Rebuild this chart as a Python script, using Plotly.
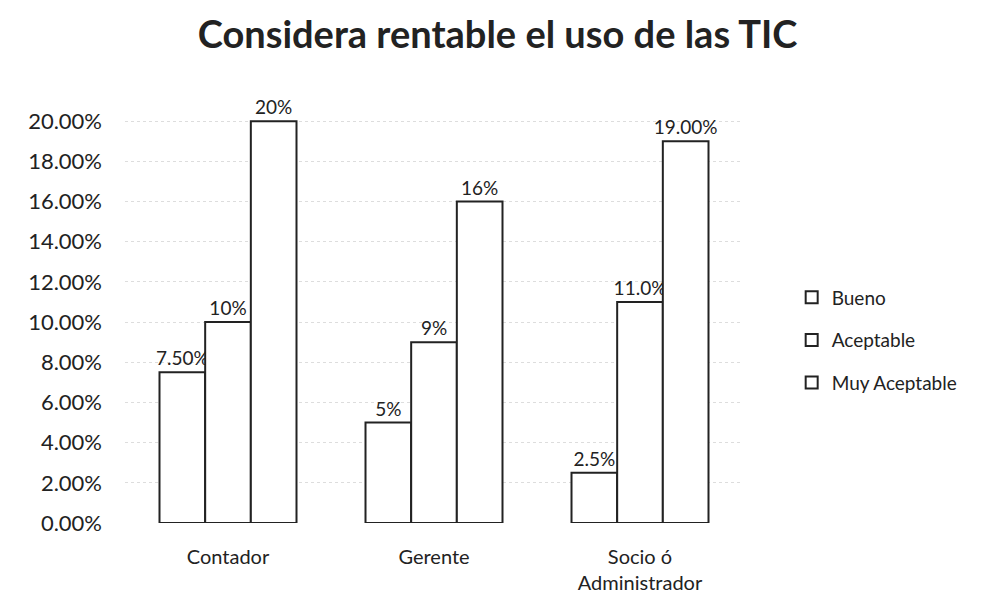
import plotly.graph_objects as go

categories = ["Contador", "Gerente", "Socio ó<br>Administrador"]
series_names = ["Bueno", "Aceptable", "Muy Aceptable"]
bueno = [7.5, 5.0, 2.5]
aceptable = [10.0, 9.0, 11.0]
muy_aceptable = [20.0, 16.0, 19.0]
bueno_labels = ["7.50%", "5%", "2.5%"]
aceptable_labels = ["10%", "9%", "11.0%"]
muy_aceptable_labels = ["20%", "16%", "19.00%"]
y_ticks = [0, 2, 4, 6, 8, 10, 12, 14, 16, 18, 20]
y_tick_labels = ["0.00%", "2.00%", "4.00%", "6.00%", "8.00%", "10.00%",
                 "12.00%", "14.00%", "16.00%", "18.00%", "20.00%"]

FONT = "Lato, 'Open Sans', sans-serif"
INK = "#222222"

fig = go.Figure()
for i, (name, vals, labs) in enumerate(zip(series_names,
                                            [bueno, aceptable, muy_aceptable],
                                            [bueno_labels, aceptable_labels, muy_aceptable_labels])):
    fig.add_trace(go.Bar(
        name=name, x=categories, y=vals, text=labs,
        textposition="outside", cliponaxis=False, constraintext="none",
        textangle=0,
        textfont=dict(size=19, color=INK, family=FONT),
        marker=dict(color="white", line=dict(color=INK, width=2)),
        legendgroup=f"g{i}",
    ))

fig.update_layout(
    width=987, height=601,
    paper_bgcolor="white", plot_bgcolor="white",
    barmode="group", bargap=0.335, bargroupgap=0,
    title=dict(text="<b>Considera rentable el uso de las TIC</b>",
               x=0.496, xanchor="center", y=0.955, yanchor="middle",
               font=dict(size=38, color=INK, family=FONT)),
    margin=dict(l=117, r=252, t=83, b=86),
    font=dict(family=FONT, color=INK, size=19),
    showlegend=True,
    legend=dict(xref="container", yref="container", x=0.794, y=0.447,
                xanchor="left", yanchor="middle",
                font=dict(size=19, color=INK, family=FONT),
                tracegroupgap=15, bgcolor="rgba(0,0,0,0)"),
    xaxis=dict(showline=False, ticks="", ticklabelstandoff=20,
               tickfont=dict(size=20, color=INK)),
    yaxis=dict(range=[0, 21.5], tickvals=y_ticks, ticktext=y_tick_labels,
               showgrid=True, gridcolor="#dddddd", griddash="dot",
               zeroline=False, showline=False, ticks="",
               ticklabelstandoff=22, tickfont=dict(size=22, color=INK)),
)

fig.write_html("out.html")
